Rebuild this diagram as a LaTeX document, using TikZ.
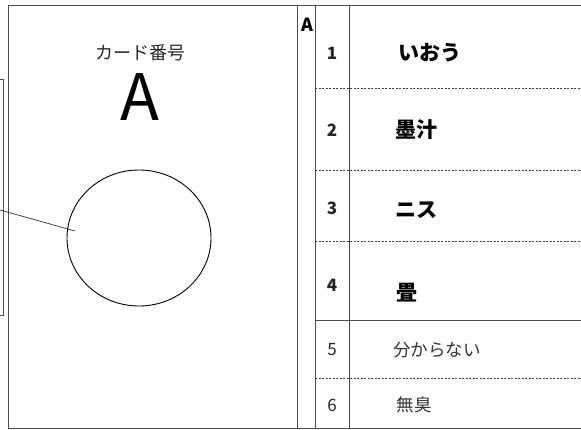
\documentclass[tikz,border=0pt]{standalone}
\usepackage{fontspec}
\usetikzlibrary{shapes.geometric}
\setmainfont{Noto Sans CJK JP}
\begin{document}
\begin{tikzpicture}[x=1pt,y=-1pt,
  frame/.style={draw=black!70,line width=0.9pt},
  sep/.style={draw=black!75,line width=0.8pt,dash pattern=on 2pt off 1.5pt},
  num/.style={font=\fontsize{17}{17}\selectfont\bfseries,text=black!85},
  numreg/.style={font=\fontsize{17}{17}\selectfont,text=black!85},
  big/.style={font=\fontsize{21}{21}\selectfont\bfseries,text=black},
  small/.style={font=\fontsize{17.5}{17.5}\selectfont,text=black!80}]
\useasboundingbox (0,0) rectangle (581,430);
% partial rect at left edge
\draw[frame] (-5,79) -- (3,79) -- (3,315) -- (-5,315);
% card
\draw[frame] (8,5) rectangle (297,428);
% table
\draw[frame] (297,5) -- (581,5);
\draw[frame] (297,428) -- (581,428);
\draw[frame] (315,5) -- (315,428);
\draw[frame] (349,5) -- (349,428);
\draw[sep] (315,88) -- (581,88);
\draw[sep] (315,170) -- (581,170);
\draw[sep] (315,241) -- (581,241);
\draw[frame] (315,320) -- (581,320);
\draw[sep] (315,378) -- (581,378);
% card content
\node[font=\fontsize{18}{18}\selectfont,text=black!85] (title) at (140,53) {カード番号};
\node[font=\fontsize{64}{64}\selectfont,text=black] (cardA) at (140,97) {A};
\node[draw=black,line width=0.9pt,ellipse,minimum width=144pt,minimum height=136pt,inner sep=0pt] (circ) at (139,238) {};
\coordinate (lstart) at (0,210);
\coordinate (lend) at (75,231);
\draw[black!80,line width=0.7pt] (lstart) -- (lend);
% table content
\node[font=\fontsize{18}{18}\selectfont\bfseries] (colA) at (307,25) {A};
\node[num] (n1) at (332,53) {1};
\node[num] (n2) at (332,130) {2};
\node[num] (n3) at (332,208) {3};
\node[num] (n4) at (332,285) {4};
\node[numreg] (n5) at (332,350) {5};
\node[numreg] (n6) at (332,405) {6};
\node[big] (t1) at (430,53) {いおう};
\node[big] (t2) at (416,130) {墨汁};
\node[big] (t3) at (416,210) {ニス};
\node[big] (t4) at (407,293) {畳};
\node[small] (t5) at (437,350) {分からない};
\node[small] (t6) at (414,405) {無臭};
\end{tikzpicture}
\end{document}
